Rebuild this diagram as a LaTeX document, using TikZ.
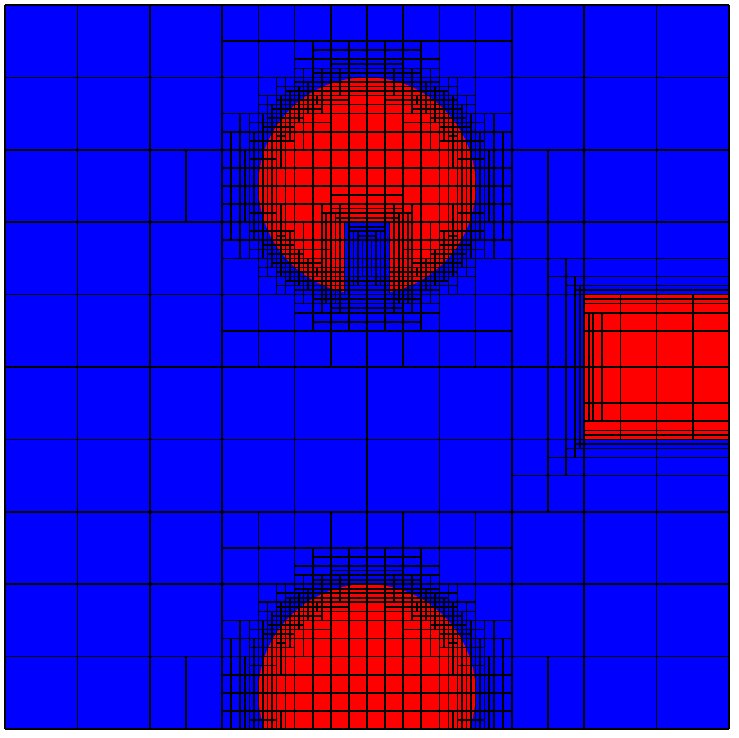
\documentclass[tikz,border=0pt]{standalone}
\tikzset{meshline/.style={line width=0.65pt,black}}
\def\hmin{0.0625}
\def\mcfac{1}

% wanted cell sizes near one interface: d, nx, ny, tangential size, cap, slope
\newcommand\mcupdate[6]{%
  \pgfmathsetmacro\mchn{min(1,max(\hmin,#6*#1,1.5*(#1-0.35)))}%
  \pgfmathsetmacro\mcht{min(1,max(#4,2*\mchn))}%
  \pgfmathsetmacro\mchxd{min(\mchxd,#5,1/max(1,veclen((#2)/\mchn,(#3)/\mcht)))}%
  \pgfmathsetmacro\mchyd{min(\mchyd,#5,1/max(1,veclen((#3)/\mchn,(#2)/\mcht)))}%
}
\newcommand\mccircle[4]{%
  \pgfmathsetmacro\mcvx{\mcX-(#1)}%
  \pgfmathsetmacro\mcvy{\mcY-(#2)}%
  \pgfmathsetmacro\mcrho{max(veclen(\mcvx,\mcvy),0.001)}%
  \pgfmathsetmacro\mcnx{\mcvx/\mcrho}%
  \pgfmathsetmacro\mcny{\mcvy/\mcrho}%
  \pgfmathsetmacro\mcd{abs(\mcrho-(#3))}%
  \pgfmathsetmacro\mccap{\mcrho<(#3) ? 0.25 : 1}%
  \mcupdate{\mcd}{\mcnx}{\mcny}{#4}{\mccap}{0.45}}
\newcommand\mcbox[7]{%
  \pgfmathsetmacro\mcqx{abs(\mcX-(#1))-(#3)}%
  \pgfmathsetmacro\mcqy{abs(\mcY-(#2))-(#4)}%
  \pgfmathsetmacro\mcd{(\mcqx>0 && \mcqy>0) ? veclen(\mcqx,\mcqy) : abs(max(\mcqx,\mcqy))}%
  \pgfmathsetmacro\mcnx{(\mcqx>0 && \mcqy>0) ? \mcqx/max(\mcd,0.0001) : (\mcqx>\mcqy ? 1 : 0)}%
  \pgfmathsetmacro\mcny{(\mcqx>0 && \mcqy>0) ? \mcqy/max(\mcd,0.0001) : (\mcqx>\mcqy ? 0 : 1)}%
  \pgfmathsetmacro\mccap{(\mcqx<0 && \mcqy<0) ? #6 : 1}%
  \mcupdate{\mcd}{\mcnx}{\mcny}{#5}{\mccap}{#7}}

% one cell: x, y, width, height
\newcommand\meshcell[4]{%
  \begingroup
  \pgfmathsetmacro\mcX{#1+0.5*#3}%
  \pgfmathsetmacro\mcY{#2+0.5*#4}%
  \def\mchxd{1}\def\mchyd{1}%
  \ifdim\mcY pt>4.5pt
    \mccircle{5}{7.5}{1.5}{0.5}%
    \ifdim\mcX pt>3.5pt \ifdim\mcX pt<6.5pt
      \mcbox{5}{6.5}{0.3}{0.5}{0.25}{1}{0.45}%
    \fi\fi
  \fi
  \ifdim\mcY pt<3.5pt \mccircle{5}{0.5}{1.5}{0.5}\fi
  \ifdim\mcX pt>6.5pt \ifdim\mcY pt>2.5pt \ifdim\mcY pt<7.5pt
    \mcbox{10}{5}{2}{1}{1}{0.5}{0.7}%
  \fi\fi\fi
  \pgfmathtruncatemacro\mcsx{(#3>\mcfac*\mchxd) && (#3>1.5*\hmin) ? 1 : 0}%
  \pgfmathtruncatemacro\mcsy{(#4>\mcfac*\mchyd) && (#4>1.5*\hmin) ? 1 : 0}%
  \pgfmathtruncatemacro\mcmode{2*\mcsx+\mcsy}%
  \pgfmathsetmacro\mcw{0.5*#3}\pgfmathsetmacro\mch{0.5*#4}%
  \pgfmathsetmacro\mcxm{#1+\mcw}\pgfmathsetmacro\mcym{#2+\mch}%
  \pgfmathsetmacro\mcxe{#1+#3}\pgfmathsetmacro\mcye{#2+#4}%
  \ifcase\mcmode
    \def\mcnext{}%
  \or
    \draw[meshline] (#1,\mcym) -- (\mcxe,\mcym);
    \edef\mcnext{\noexpand\meshcell{#1}{#2}{#3}{\mch}\noexpand\meshcell{#1}{\mcym}{#3}{\mch}}%
  \or
    \draw[meshline] (\mcxm,#2) -- (\mcxm,\mcye);
    \edef\mcnext{\noexpand\meshcell{#1}{#2}{\mcw}{#4}\noexpand\meshcell{\mcxm}{#2}{\mcw}{#4}}%
  \or
    \draw[meshline] (#1,\mcym) -- (\mcxe,\mcym);
    \draw[meshline] (\mcxm,#2) -- (\mcxm,\mcye);
    \edef\mcnext{\noexpand\meshcell{#1}{#2}{\mcw}{\mch}\noexpand\meshcell{\mcxm}{#2}{\mcw}{\mch}%
      \noexpand\meshcell{#1}{\mcym}{\mcw}{\mch}\noexpand\meshcell{\mcxm}{\mcym}{\mcw}{\mch}}%
  \fi
  \mcnext
  \endgroup}

\begin{document}
\begin{tikzpicture}
\useasboundingbox (-0.069,-0.124) rectangle (10.124,10.069);
\fill[blue] (0,0) rectangle (10,10);
\begin{scope}
  \clip (0,0) rectangle (10,10);
  \fill[red] (5,7.5) circle (1.5);
  \fill[blue] (4.7,5.8) rectangle (5.3,7);
  \fill[red] (5,0.5) circle (1.5);
  \fill[red] (8,4) rectangle (10,6);
\end{scope}
\foreach \i in {0,...,9}{
  \foreach \j in {0,...,9}{
    \meshcell{\i}{\j}{1}{1}
  }
}
\draw[meshline] (0,0) grid (10,10);
\end{tikzpicture}
\end{document}
